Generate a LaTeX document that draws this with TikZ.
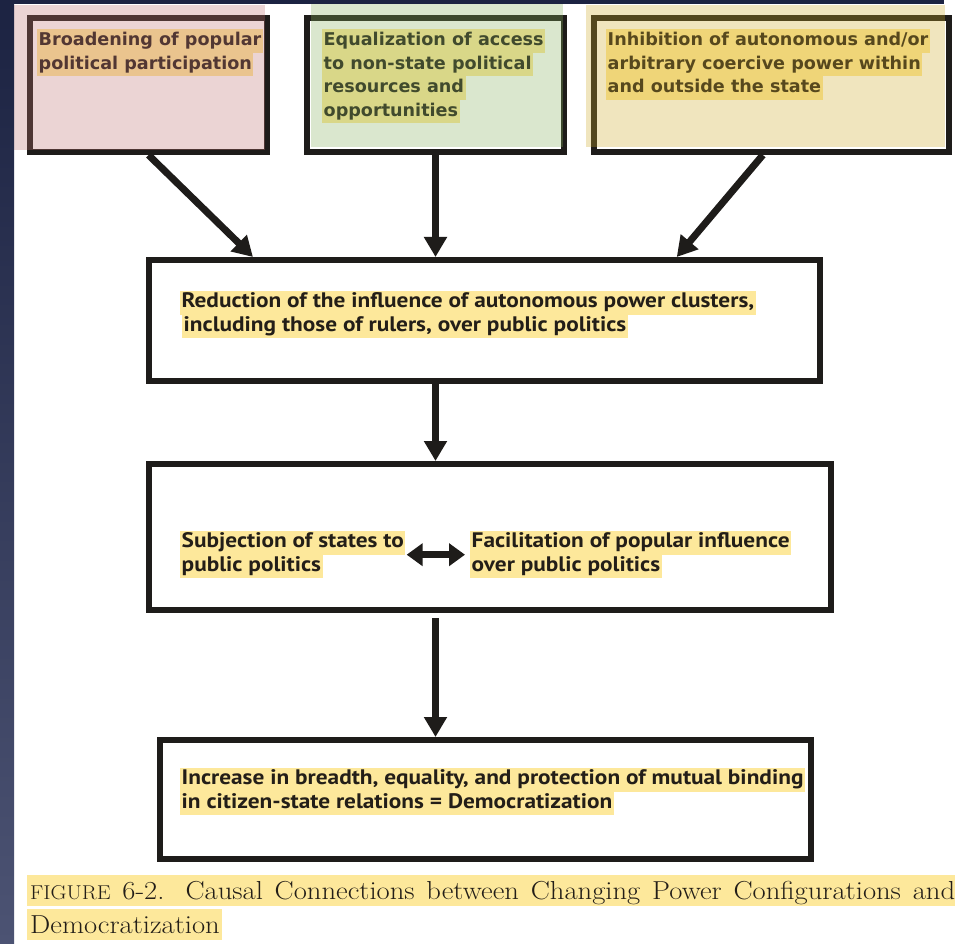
\documentclass[tikz,border=0pt]{standalone}
\usepackage{fontspec}
\usetikzlibrary{arrows.meta,calc}
\setmainfont[FakeStretch=1.1]{Latin Modern Roman}
\newfontfamily\topfont{DejaVu Sans}
\newfontfamily\condfont[FakeStretch=1.11]{PT Sans}
\definecolor{hlc}{RGB}{253,232,155}
\definecolor{boxc}{RGB}{30,28,26}
\definecolor{txtc}{RGB}{35,30,24}
\definecolor{pinkov}{RGB}{192,115,115}
\definecolor{greenov}{RGB}{135,178,95}
\definecolor{yellowov}{RGB}{208,172,42}
\definecolor{navytop}{RGB}{28,35,66}
\definecolor{navybot}{RGB}{76,83,115}
\setlength{\fboxsep}{0pt}
\newcommand{\hlt}[1]{\colorbox{hlc}{\strut\hspace{1.5pt}#1\hspace{1.5pt}}}
\newcommand{\fakesc}[1]{{\fontsize{20}{20}\selectfont #1}}
\tikzset{
  box/.style={draw=boxc, line width=6pt, inner sep=0pt, rectangle},
  toptxt/.style={anchor=north west, inner sep=0pt, align=left, text=txtc,
    font=\topfont\bfseries\fontsize{17.6}{23.5}\selectfont},
  lowtxt/.style={anchor=north west, inner sep=0pt, align=left, text=txtc,
    font=\condfont\bfseries\fontsize{21}{23.5}\selectfont},
  arr/.style={draw=boxc, line width=7pt, -{Triangle[width=22pt,length=20pt]}},
  dbl/.style={draw=boxc, line width=7pt, {Triangle[width=22pt,length=16pt]}-{Triangle[width=22pt,length=16pt]}},
  overlay/.style={fill opacity=0.3, draw=none}
}
\begin{document}
\begin{tikzpicture}[x=1pt,y=-1pt]
\useasboundingbox (0,0) rectangle (961,944);
\fill[white] (0,0) rectangle (961,944);

% boxes
\node[box, minimum width=237pt, minimum height=134pt] (b1) at (148.5,85) {};
\node[box, minimum width=257pt, minimum height=134pt] (b2) at (435.5,85) {};
\node[box, minimum width=355pt, minimum height=134pt] (b3) at (771.5,85) {};
\node[box, minimum width=671pt, minimum height=121pt] (b4) at (484.5,320.5) {};
\node[box, minimum width=682pt, minimum height=146pt] (b5) at (490,537) {};
\node[box, minimum width=651pt, minimum height=119pt] (b6) at (485.5,799.5) {};

% texts
\node[toptxt] (t1) at (37,29) {\hlt{Broadening of popular}\\\hlt{political participation}};
\node[toptxt] (t2) at (322,29) {\hlt{Equalization of access}\\\hlt{to non-state political}\\\hlt{resources and}\\\hlt{opportunities}};
\node[toptxt] (t3) at (606,29) {\hlt{Inhibition of autonomous and/or}\\\hlt{arbitrary coercive power within}\\\hlt{and outside the state}};
\node[lowtxt] (t4) at (180,291) {\hlt{Reduction of the influence of autonomous power clusters,}\\\hspace{2pt}\hlt{including those of rulers, over public politics}};
\node[lowtxt] (t5a) at (180,531) {\hlt{Subjection of states to}\\\hlt{public politics}};
\node[lowtxt] (t5b) at (470,531) {\hlt{Facilitation of popular influence}\\\hlt{over public politics}};
\node[lowtxt] (t6) at (180,768) {\hlt{Increase in breadth, equality, and protection of mutual binding}\\\hlt{in citizen-state relations = Democratization}};

% caption
\node[anchor=north west, inner sep=0pt, align=left, text=txtc,
  font=\fontsize{26}{34}\selectfont] (cap) at (27,875)
  {\colorbox{hlc}{\rule[-7pt]{0pt}{31pt}\makebox[928pt][s]{\hspace{3pt}\fakesc{FIGURE} 6-2. Causal Connections between Changing Power Configurations and}}\\
   \colorbox{hlc}{\rule[-7pt]{0pt}{31pt}\hspace{3pt}Democratization\hspace{2pt}}};

% connectors
\draw[arr] (b1.south) -- ($(b4.north west)!0.158!(b4.north east)$);
\draw[arr] (b2.south) -- (b2.south |- b4.north);
\draw[arr] ($(b3.south west)!0.476!(b3.south east)$) -- ($(b4.north west)!0.784!(b4.north east)$);
\draw[arr] (b2.south |- b4.south) -- (b2.south |- b5.north);
\draw[arr] ($(b2.south |- b5.south)+(0,5)$) -- (b2.south |- b6.north);
\draw[dbl] ($(t5a.east)+(1,0)$) -- ($(t5b.west)+(-5,0)$);

% translucent slide highlights over the top boxes
\fill[pinkov, overlay] (14,5) rectangle (265,150);
\fill[greenov, overlay] (311,4) rectangle (563,147);
\fill[yellowov, overlay] (586,5) rectangle (945,147);

% slide background edges
\shade[top color=navytop, bottom color=navybot] (0,0) rectangle (14,944);
\fill[navytop] (0,0) rectangle (944,4.5);
\end{tikzpicture}
\end{document}
